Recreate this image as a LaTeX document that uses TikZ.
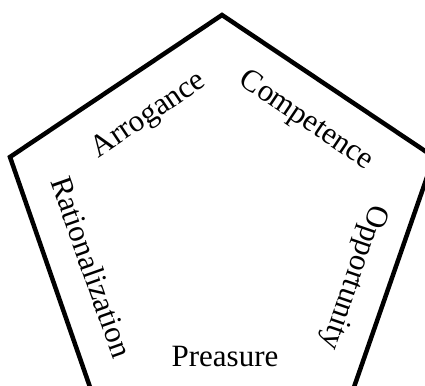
\documentclass[tikz,border=0pt]{standalone}
\usepackage{fontspec}
\setmainfont{Liberation Serif}
\begin{document}
\begin{tikzpicture}[x=1pt,y=-1pt,
  edge/.style={line width=4.5pt,line join=miter},
  lbl/.style={font=\fontsize{31}{31}\selectfont,inner sep=0pt,anchor=center}]
\useasboundingbox (0,0) rectangle (425,385);
\clip (0,0) rectangle (425,385);
\coordinate (T) at (222,15);
\coordinate (L) at (10,157);
\coordinate (R) at (434,157);
\coordinate (BL) at (91,390);
\coordinate (BR) at (353,390);
\draw[edge] (T) -- (R) -- (BR) -- (BL) -- (L) -- cycle;
\node[lbl,rotate=34] (arr) at (149,116) {Arrogance};
\node[lbl,rotate=-34] (comp) at (306,121) {Competence};
\node[lbl,rotate=-70.5] (rat) at (92,267) {Rationalization};
\node[lbl,rotate=-109] (opp) at (353,277) {Opportunity};
\node[lbl] (pre) at (225,356) {Preasure};
\end{tikzpicture}
\end{document}
